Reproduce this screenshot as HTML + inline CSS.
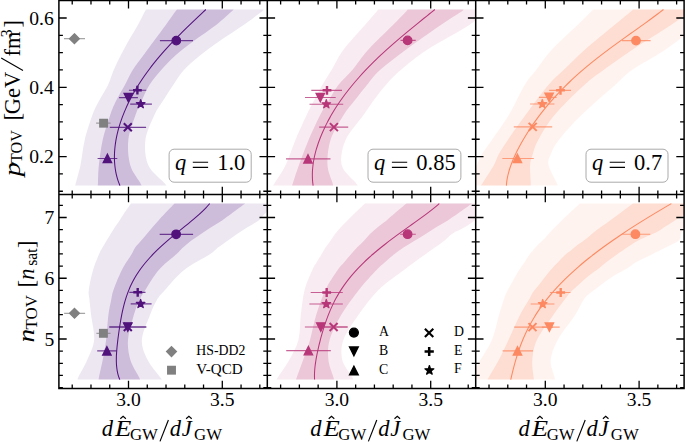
<!DOCTYPE html>
<html><head><meta charset="utf-8"><style>
html,body{margin:0;padding:0;background:#fff;}
svg{display:block;font-family:"Liberation Serif", serif;}
</style></head><body>
<svg xmlns="http://www.w3.org/2000/svg" width="685" height="442" viewBox="0 0 685 442">
<rect width="685" height="442" fill="#fff"/>
<clipPath id="clip00"><rect x="58.9" y="0.6" width="208.4" height="193.9"/></clipPath>
<g clip-path="url(#clip00)">
<path d="M146.30,9.50 C146.02,9.92 146.00,9.42 144.60,12.00 C143.20,14.58 140.50,20.33 137.90,25.00 C135.30,29.67 131.83,35.00 129.00,40.00 C126.17,45.00 123.45,50.00 120.90,55.00 C118.35,60.00 115.85,65.00 113.70,70.00 C111.55,75.00 110.37,80.00 108.00,85.00 C105.63,90.00 102.10,95.00 99.50,100.00 C96.90,105.00 94.87,108.33 92.40,115.00 C89.93,121.67 86.68,131.67 84.70,140.00 C82.72,148.33 81.93,158.00 80.50,165.00 C79.07,172.00 76.98,178.57 76.10,182.00 C75.22,185.43 75.35,185.00 75.20,185.60 L166.60,185.60 C166.07,185.00 166.47,185.43 163.40,182.00 C160.33,178.57 151.20,172.00 148.20,165.00 C145.20,158.00 144.37,148.33 145.40,140.00 C146.43,131.67 151.38,121.67 154.40,115.00 C157.42,108.33 160.37,105.00 163.50,100.00 C166.63,95.00 169.80,90.00 173.20,85.00 C176.60,80.00 179.33,75.00 183.90,70.00 C188.47,65.00 194.42,60.00 200.60,55.00 C206.78,50.00 213.83,45.00 221.00,40.00 C228.17,35.00 236.88,29.67 243.60,25.00 C250.32,20.33 257.95,14.58 261.30,12.00 C264.65,9.42 263.30,9.92 263.70,9.50 Z" fill="#51127c" fill-opacity="0.10"/>
<path d="M177.20,9.50 C176.83,9.92 176.90,9.42 175.00,12.00 C173.10,14.58 169.20,20.33 165.80,25.00 C162.40,29.67 158.30,35.00 154.60,40.00 C150.90,45.00 147.25,50.00 143.60,55.00 C139.95,60.00 135.82,65.00 132.70,70.00 C129.58,75.00 127.60,80.00 124.90,85.00 C122.20,90.00 118.95,95.00 116.50,100.00 C114.05,105.00 112.50,108.33 110.20,115.00 C107.90,121.67 104.58,131.67 102.70,140.00 C100.82,148.33 99.68,158.00 98.90,165.00 C98.12,172.00 98.18,178.57 98.00,182.00 C97.82,185.43 97.83,185.00 97.80,185.60 L141.70,185.60 C141.37,185.00 141.62,185.43 139.70,182.00 C137.78,178.57 132.10,172.00 130.20,165.00 C128.30,158.00 127.42,148.33 128.30,140.00 C129.18,131.67 133.22,121.67 135.50,115.00 C137.78,108.33 139.68,105.00 142.00,100.00 C144.32,95.00 146.20,90.00 149.40,85.00 C152.60,80.00 156.78,75.00 161.20,70.00 C165.62,65.00 170.27,60.00 175.90,55.00 C181.53,50.00 188.30,45.00 195.00,40.00 C201.70,35.00 210.10,29.67 216.10,25.00 C222.10,20.33 228.07,14.58 231.00,12.00 C233.93,9.42 233.25,9.92 233.70,9.50 Z" fill="#51127c" fill-opacity="0.2"/>
<path d="M205.85,9.50 C205.05,10.25 202.63,12.51 201.02,14.02 C199.42,15.52 197.81,17.03 196.22,18.53 C194.63,20.04 193.05,21.54 191.48,23.05 C189.91,24.55 188.35,26.06 186.80,27.56 C185.26,29.07 183.73,30.57 182.22,32.08 C180.70,33.58 179.21,35.09 177.73,36.59 C176.26,38.10 174.80,39.60 173.37,41.11 C171.93,42.61 170.51,44.12 169.12,45.62 C167.73,47.13 166.36,48.63 165.02,50.14 C163.67,51.64 162.35,53.15 161.05,54.65 C159.75,56.16 158.48,57.66 157.23,59.17 C155.99,60.67 154.76,62.18 153.57,63.68 C152.37,65.19 151.20,66.69 150.06,68.20 C148.92,69.71 147.80,71.21 146.71,72.72 C145.62,74.22 144.55,75.73 143.52,77.23 C142.48,78.74 141.47,80.24 140.49,81.75 C139.50,83.25 138.55,84.76 137.62,86.26 C136.69,87.77 135.79,89.27 134.91,90.78 C134.03,92.28 133.19,93.79 132.36,95.29 C131.54,96.80 130.75,98.30 129.98,99.81 C129.21,101.31 128.47,102.82 127.75,104.32 C127.04,105.83 126.35,107.33 125.69,108.84 C125.03,110.34 124.40,111.85 123.79,113.35 C123.18,114.86 122.60,116.36 122.05,117.87 C121.50,119.37 120.98,120.88 120.48,122.38 C119.98,123.89 119.51,125.39 119.08,126.90 C118.64,128.41 118.22,129.91 117.84,131.42 C117.46,132.92 117.11,134.43 116.79,135.93 C116.46,137.44 116.17,138.94 115.91,140.45 C115.65,141.95 115.42,143.46 115.23,144.96 C115.04,146.47 114.87,147.97 114.75,149.48 C114.62,150.98 114.53,152.49 114.48,153.99 C114.43,155.50 114.41,157.00 114.43,158.51 C114.46,160.01 114.52,161.52 114.63,163.02 C114.74,164.53 114.88,166.03 115.08,167.54 C115.28,169.04 115.52,170.55 115.81,172.05 C116.11,173.56 116.45,175.06 116.85,176.57 C117.25,178.07 117.69,179.58 118.21,181.08 C118.72,182.59 119.63,184.85 119.92,185.60" stroke="#51127c" stroke-width="1.05" fill="none"/>
<line x1="64.0" y1="38.7" x2="85.0" y2="38.7" stroke="#808080" stroke-width="1.2" stroke-opacity="0.7"/>
<path d="M74.40,33.80 L79.30,38.70 L74.40,43.60 L69.50,38.70 Z" fill="#808080" stroke="#808080" stroke-width="1.3" stroke-linejoin="miter"/>
<line x1="96.1" y1="123.2" x2="110.6" y2="123.2" stroke="#808080" stroke-width="1.2" stroke-opacity="0.7"/>
<rect x="99.80" y="119.40" width="7.60" height="7.60" fill="#808080" stroke="#808080" stroke-width="1.3" stroke-linejoin="miter"/>
<line x1="159.9" y1="40.6" x2="193.0" y2="40.6" stroke="#51127c" stroke-width="1.15" stroke-opacity="0.78"/>
<circle cx="176.3" cy="40.6" r="4.25" fill="#51127c" stroke="#51127c" stroke-width="1.3" stroke-linejoin="miter"/>
<line x1="128.9" y1="90.2" x2="146.2" y2="90.2" stroke="#51127c" stroke-width="1.15" stroke-opacity="0.78"/>
<path d="M133.00,90.20 L141.80,90.20 M137.40,85.80 L137.40,94.60" stroke="#51127c" stroke-width="2.40" fill="none"/>
<line x1="119.1" y1="97.6" x2="137.9" y2="97.6" stroke="#51127c" stroke-width="1.15" stroke-opacity="0.78"/>
<path d="M124.10,93.40 L132.50,93.40 L128.30,101.80 Z" fill="#51127c" stroke="#51127c" stroke-width="1.3" stroke-linejoin="miter"/>
<line x1="130.2" y1="104.1" x2="151.9" y2="104.1" stroke="#51127c" stroke-width="1.15" stroke-opacity="0.78"/>
<path d="M140.70,99.60 L141.71,102.71 L144.98,102.71 L142.33,104.63 L143.35,107.74 L140.70,105.82 L138.05,107.74 L139.07,104.63 L136.42,102.71 L139.69,102.71 Z" fill="#51127c" stroke="#51127c" stroke-width="1.3" stroke-linejoin="round"/>
<line x1="109.8" y1="127.3" x2="146.1" y2="127.3" stroke="#51127c" stroke-width="1.15" stroke-opacity="0.78"/>
<path d="M123.80,123.30 L131.80,131.30 M123.80,131.30 L131.80,123.30" stroke="#51127c" stroke-width="2.00" fill="none"/>
<line x1="97.6" y1="158.5" x2="117.3" y2="158.5" stroke="#51127c" stroke-width="1.15" stroke-opacity="0.78"/>
<path d="M103.20,162.70 L111.60,162.70 L107.40,154.30 Z" fill="#51127c" stroke="#51127c" stroke-width="1.3" stroke-linejoin="miter"/>
</g>
<clipPath id="clip01"><rect x="267.3" y="0.6" width="208.4" height="193.9"/></clipPath>
<g clip-path="url(#clip01)">
<path d="M378.00,9.50 C377.72,9.92 378.47,9.42 376.30,12.00 C374.13,14.58 370.50,18.67 365.00,25.00 C359.50,31.33 348.87,42.50 343.30,50.00 C337.73,57.50 335.10,64.17 331.60,70.00 C328.10,75.83 325.18,80.00 322.30,85.00 C319.42,90.00 316.92,95.00 314.30,100.00 C311.68,105.00 309.75,108.33 306.60,115.00 C303.45,121.67 298.88,131.67 295.40,140.00 C291.92,148.33 289.05,158.00 285.70,165.00 C282.35,172.00 277.40,178.57 275.30,182.00 C273.20,185.43 273.47,185.00 273.10,185.60 L357.80,185.60 C357.33,185.00 357.68,185.43 355.00,182.00 C352.32,178.57 343.27,172.00 341.70,165.00 C340.13,158.00 341.97,148.33 345.60,140.00 C349.23,131.67 358.77,121.67 363.50,115.00 C368.23,108.33 370.28,105.00 374.00,100.00 C377.72,95.00 381.33,90.00 385.80,85.00 C390.27,80.00 393.97,75.83 400.80,70.00 C407.63,64.17 415.38,57.50 426.80,50.00 C438.22,42.50 459.93,31.33 469.30,25.00 C478.67,18.67 480.38,14.58 483.00,12.00 C485.62,9.42 484.67,9.92 485.00,9.50 Z" fill="#b73779" fill-opacity="0.10"/>
<path d="M407.70,9.50 C407.37,9.92 408.15,9.42 405.70,12.00 C403.25,14.58 399.28,18.67 393.00,25.00 C386.72,31.33 374.77,42.50 368.00,50.00 C361.23,57.50 357.33,64.17 352.40,70.00 C347.47,75.83 342.30,80.00 338.40,85.00 C334.50,90.00 332.03,95.00 329.00,100.00 C325.97,105.00 323.60,108.33 320.20,115.00 C316.80,121.67 312.13,131.67 308.60,140.00 C305.07,148.33 301.55,158.00 299.00,165.00 C296.45,172.00 294.45,178.57 293.30,182.00 C292.15,185.43 292.30,185.00 292.10,185.60 L333.20,185.60 C333.03,185.00 333.15,185.43 332.20,182.00 C331.25,178.57 327.78,172.00 327.50,165.00 C327.22,158.00 327.82,148.33 330.50,140.00 C333.18,131.67 339.52,121.67 343.60,115.00 C347.68,108.33 351.12,105.00 355.00,100.00 C358.88,95.00 362.73,90.00 366.90,85.00 C371.07,80.00 373.57,75.83 380.00,70.00 C386.43,64.17 395.37,57.50 405.50,50.00 C415.63,42.50 431.58,31.33 440.80,25.00 C450.02,18.67 457.02,14.58 460.80,12.00 C464.58,9.42 463.05,9.92 463.50,9.50 Z" fill="#b73779" fill-opacity="0.2"/>
<path d="M434.88,9.50 C433.95,10.25 431.15,12.51 429.28,14.02 C427.41,15.52 425.53,17.03 423.67,18.53 C421.80,20.04 419.93,21.54 418.08,23.05 C416.22,24.55 414.37,26.06 412.54,27.56 C410.70,29.07 408.87,30.57 407.06,32.08 C405.25,33.58 403.45,35.09 401.67,36.59 C399.89,38.10 398.13,39.60 396.39,41.11 C394.65,42.61 392.92,44.12 391.22,45.62 C389.52,47.13 387.84,48.63 386.18,50.14 C384.53,51.64 382.89,53.15 381.28,54.65 C379.68,56.16 378.09,57.66 376.53,59.17 C374.98,60.67 373.44,62.18 371.94,63.68 C370.43,65.19 368.95,66.69 367.50,68.20 C366.05,69.71 364.63,71.21 363.23,72.72 C361.83,74.22 360.46,75.73 359.12,77.23 C357.78,78.74 356.47,80.24 355.18,81.75 C353.90,83.25 352.64,84.76 351.42,86.26 C350.19,87.77 348.99,89.27 347.81,90.78 C346.64,92.28 345.50,93.79 344.38,95.29 C343.27,96.80 342.18,98.30 341.12,99.81 C340.06,101.31 339.03,102.82 338.02,104.32 C337.02,105.83 336.04,107.33 335.09,108.84 C334.15,110.34 333.22,111.85 332.33,113.35 C331.44,114.86 330.57,116.36 329.73,117.87 C328.89,119.37 328.08,120.88 327.30,122.38 C326.52,123.89 325.76,125.39 325.03,126.90 C324.31,128.41 323.60,129.91 322.93,131.42 C322.26,132.92 321.62,134.43 321.00,135.93 C320.39,137.44 319.80,138.94 319.25,140.45 C318.69,141.95 318.17,143.46 317.67,144.96 C317.18,146.47 316.71,147.97 316.28,149.48 C315.85,150.98 315.44,152.49 315.08,153.99 C314.71,155.50 314.38,157.00 314.08,158.51 C313.78,160.01 313.52,161.52 313.29,163.02 C313.07,164.53 312.88,166.03 312.74,167.54 C312.59,169.04 312.48,170.55 312.42,172.05 C312.36,173.56 312.34,175.06 312.37,176.57 C312.40,178.07 312.47,179.58 312.60,181.08 C312.72,182.59 313.04,184.85 313.13,185.60" stroke="#b73779" stroke-width="1.05" fill="none"/>
<line x1="400.5" y1="40.4" x2="415.7" y2="40.4" stroke="#b73779" stroke-width="1.15" stroke-opacity="0.78"/>
<circle cx="407.6" cy="40.4" r="4.25" fill="#b73779" stroke="#b73779" stroke-width="1.3" stroke-linejoin="miter"/>
<line x1="311.3" y1="90.3" x2="342.0" y2="90.3" stroke="#b73779" stroke-width="1.15" stroke-opacity="0.78"/>
<path d="M322.60,90.30 L331.40,90.30 M327.00,85.90 L327.00,94.70" stroke="#b73779" stroke-width="2.40" fill="none"/>
<line x1="305.0" y1="97.5" x2="335.7" y2="97.5" stroke="#b73779" stroke-width="1.15" stroke-opacity="0.78"/>
<path d="M316.10,93.30 L324.50,93.30 L320.30,101.70 Z" fill="#b73779" stroke="#b73779" stroke-width="1.3" stroke-linejoin="miter"/>
<line x1="309.5" y1="104.2" x2="343.2" y2="104.2" stroke="#b73779" stroke-width="1.15" stroke-opacity="0.78"/>
<path d="M326.30,99.70 L327.31,102.81 L330.58,102.81 L327.93,104.73 L328.95,107.84 L326.30,105.92 L323.65,107.84 L324.67,104.73 L322.02,102.81 L325.29,102.81 Z" fill="#b73779" stroke="#b73779" stroke-width="1.3" stroke-linejoin="round"/>
<line x1="319.2" y1="127.1" x2="348.2" y2="127.1" stroke="#b73779" stroke-width="1.15" stroke-opacity="0.78"/>
<path d="M329.90,123.10 L337.90,131.10 M329.90,131.10 L337.90,123.10" stroke="#b73779" stroke-width="2.00" fill="none"/>
<line x1="286.0" y1="158.8" x2="330.5" y2="158.8" stroke="#b73779" stroke-width="1.15" stroke-opacity="0.78"/>
<path d="M303.80,163.00 L312.20,163.00 L308.00,154.60 Z" fill="#b73779" stroke="#b73779" stroke-width="1.3" stroke-linejoin="miter"/>
</g>
<clipPath id="clip02"><rect x="475.7" y="0.6" width="208.4" height="193.9"/></clipPath>
<g clip-path="url(#clip02)">
<path d="M592.80,9.50 C592.45,9.92 593.25,9.42 590.70,12.00 C588.15,14.58 584.03,18.67 577.50,25.00 C570.97,31.33 558.40,42.50 551.50,50.00 C544.60,57.50 540.57,64.17 536.10,70.00 C531.63,75.83 529.25,77.50 524.70,85.00 C520.15,92.50 514.28,105.83 508.80,115.00 C503.32,124.17 496.35,133.33 491.80,140.00 C487.25,146.67 483.97,150.83 481.50,155.00 C479.03,159.17 478.75,160.50 477.00,165.00 C475.25,169.50 472.17,178.57 471.00,182.00 C469.83,185.43 470.17,185.00 470.00,185.60 L557.80,185.60 C557.55,185.00 557.85,185.43 556.30,182.00 C554.75,178.57 549.47,169.50 548.50,165.00 C547.53,160.50 548.78,159.17 550.50,155.00 C552.22,150.83 553.63,146.67 558.80,140.00 C563.97,133.33 572.10,124.17 581.50,115.00 C590.90,105.83 606.78,92.50 615.20,85.00 C623.62,77.50 623.72,75.83 632.00,70.00 C640.28,64.17 653.80,57.50 664.90,50.00 C676.00,42.50 690.08,31.33 698.60,25.00 C707.12,18.67 712.43,14.58 716.00,12.00 C719.57,9.42 719.33,9.92 720.00,9.50 Z" fill="#fc8961" fill-opacity="0.10"/>
<path d="M633.00,9.50 C632.57,9.92 633.48,9.42 630.40,12.00 C627.32,14.58 622.15,18.67 614.50,25.00 C606.85,31.33 592.98,42.50 584.50,50.00 C576.02,57.50 569.62,64.17 563.60,70.00 C557.58,75.83 554.75,77.50 548.40,85.00 C542.05,92.50 532.27,105.83 525.50,115.00 C518.73,124.17 512.32,133.33 507.80,140.00 C503.28,146.67 500.70,150.83 498.40,155.00 C496.10,159.17 496.52,160.50 494.00,165.00 C491.48,169.50 485.47,178.57 483.30,182.00 C481.13,185.43 481.38,185.00 481.00,185.60 L530.80,185.60 C530.78,185.00 530.82,185.43 530.70,182.00 C530.58,178.57 529.80,169.50 530.10,165.00 C530.40,160.50 531.15,159.17 532.50,155.00 C533.85,150.83 534.53,146.67 538.20,140.00 C541.87,133.33 546.82,124.17 554.50,115.00 C562.18,105.83 576.13,92.50 584.30,85.00 C592.47,77.50 595.55,75.83 603.50,70.00 C611.45,64.17 620.75,57.50 632.00,50.00 C643.25,42.50 661.50,31.33 671.00,25.00 C680.50,18.67 685.50,14.58 689.00,12.00 C692.50,9.42 691.50,9.92 692.00,9.50 Z" fill="#fc8961" fill-opacity="0.2"/>
<path d="M663.47,9.50 C662.49,10.25 659.59,12.51 657.60,14.02 C655.61,15.52 653.57,17.03 651.52,18.53 C649.47,20.04 647.39,21.54 645.30,23.05 C643.21,24.55 641.09,26.06 638.98,27.56 C636.87,29.07 634.75,30.57 632.64,32.08 C630.52,33.58 628.40,35.09 626.30,36.59 C624.20,38.10 622.10,39.60 620.02,41.11 C617.93,42.61 615.86,44.12 613.82,45.62 C611.77,47.13 609.73,48.63 607.73,50.14 C605.72,51.64 603.74,53.15 601.78,54.65 C599.82,56.16 597.89,57.66 595.99,59.17 C594.08,60.67 592.21,62.18 590.37,63.68 C588.52,65.19 586.71,66.69 584.93,68.20 C583.15,69.71 581.40,71.21 579.68,72.72 C577.96,74.22 576.28,75.73 574.63,77.23 C572.97,78.74 571.35,80.24 569.77,81.75 C568.18,83.25 566.63,84.76 565.11,86.26 C563.59,87.77 562.10,89.27 560.64,90.78 C559.18,92.28 557.76,93.79 556.36,95.29 C554.97,96.80 553.60,98.30 552.27,99.81 C550.94,101.31 549.63,102.82 548.36,104.32 C547.08,105.83 545.83,107.33 544.61,108.84 C543.39,110.34 542.20,111.85 541.04,113.35 C539.87,114.86 538.73,116.36 537.62,117.87 C536.50,119.37 535.42,120.88 534.35,122.38 C533.29,123.89 532.25,125.39 531.24,126.90 C530.22,128.41 529.23,129.91 528.27,131.42 C527.30,132.92 526.36,134.43 525.44,135.93 C524.52,137.44 523.63,138.94 522.76,140.45 C521.89,141.95 521.04,143.46 520.22,144.96 C519.41,146.47 518.61,147.97 517.84,149.48 C517.08,150.98 516.34,152.49 515.63,153.99 C514.92,155.50 514.24,157.00 513.59,158.51 C512.94,160.01 512.32,161.52 511.74,163.02 C511.17,164.53 510.62,166.03 510.11,167.54 C509.61,169.04 509.14,170.55 508.73,172.05 C508.31,173.56 507.93,175.06 507.61,176.57 C507.29,178.07 507.02,179.58 506.81,181.08 C506.60,182.59 506.43,184.85 506.36,185.60" stroke="#fc8961" stroke-width="1.05" fill="none"/>
<line x1="621.9" y1="40.6" x2="650.6" y2="40.6" stroke="#fc8961" stroke-width="1.15" stroke-opacity="0.78"/>
<circle cx="636.0" cy="40.6" r="4.25" fill="#fc8961" stroke="#fc8961" stroke-width="1.3" stroke-linejoin="miter"/>
<line x1="549.1" y1="90.3" x2="571.0" y2="90.3" stroke="#fc8961" stroke-width="1.15" stroke-opacity="0.78"/>
<path d="M556.10,90.30 L564.90,90.30 M560.50,85.90 L560.50,94.70" stroke="#fc8961" stroke-width="2.40" fill="none"/>
<line x1="539.0" y1="97.3" x2="556.6" y2="97.3" stroke="#fc8961" stroke-width="1.15" stroke-opacity="0.78"/>
<path d="M544.90,93.10 L553.30,93.10 L549.10,101.50 Z" fill="#fc8961" stroke="#fc8961" stroke-width="1.3" stroke-linejoin="miter"/>
<line x1="530.1" y1="104.0" x2="554.4" y2="104.0" stroke="#fc8961" stroke-width="1.15" stroke-opacity="0.78"/>
<path d="M542.30,99.50 L543.31,102.61 L546.58,102.61 L543.93,104.53 L544.95,107.64 L542.30,105.72 L539.65,107.64 L540.67,104.53 L538.02,102.61 L541.29,102.61 Z" fill="#fc8961" stroke="#fc8961" stroke-width="1.3" stroke-linejoin="round"/>
<line x1="513.8" y1="126.9" x2="552.2" y2="126.9" stroke="#fc8961" stroke-width="1.15" stroke-opacity="0.78"/>
<path d="M528.70,122.90 L536.70,130.90 M528.70,130.90 L536.70,122.90" stroke="#fc8961" stroke-width="2.00" fill="none"/>
<line x1="502.3" y1="158.5" x2="533.8" y2="158.5" stroke="#fc8961" stroke-width="1.15" stroke-opacity="0.78"/>
<path d="M513.20,162.70 L521.60,162.70 L517.40,154.30 Z" fill="#fc8961" stroke="#fc8961" stroke-width="1.3" stroke-linejoin="miter"/>
</g>
<clipPath id="clip10"><rect x="58.9" y="194.5" width="208.4" height="194.0"/></clipPath>
<g clip-path="url(#clip10)">
<path d="M131.00,203.60 C129.83,205.27 125.90,210.80 124.00,213.60 C122.10,216.40 121.10,218.15 119.60,220.40 C118.10,222.65 116.50,224.85 115.00,227.10 C113.50,229.35 112.02,231.63 110.60,233.90 C109.18,236.17 107.85,238.43 106.50,240.70 C105.15,242.97 103.75,245.23 102.50,247.50 C101.25,249.77 100.57,250.55 99.00,254.30 C97.43,258.05 94.80,264.05 93.10,270.00 C91.40,275.95 89.40,285.00 88.80,290.00 C88.20,295.00 89.12,295.83 89.50,300.00 C89.88,304.17 90.33,308.33 91.10,315.00 C91.87,321.67 94.75,332.50 94.10,340.00 C93.45,347.50 89.73,354.00 87.20,360.00 C84.67,366.00 80.52,372.73 78.90,376.00 C77.28,379.27 77.73,379.00 77.50,379.60 L162.00,379.60 C161.53,379.00 161.58,379.27 159.20,376.00 C156.82,372.73 150.58,366.00 147.70,360.00 C144.82,354.00 141.52,347.50 141.90,340.00 C142.28,332.50 147.50,321.67 150.00,315.00 C152.50,308.33 154.40,304.17 156.90,300.00 C159.40,295.83 160.45,295.00 165.00,290.00 C169.55,285.00 176.72,275.95 184.20,270.00 C191.68,264.05 204.27,258.05 209.90,254.30 C215.53,250.55 215.07,249.77 218.00,247.50 C220.93,245.23 224.33,242.97 227.50,240.70 C230.67,238.43 233.60,236.17 237.00,233.90 C240.40,231.63 244.28,229.35 247.90,227.10 C251.52,224.85 255.85,222.65 258.70,220.40 C261.55,218.15 262.28,216.40 265.00,213.60 C267.72,210.80 273.33,205.27 275.00,203.60 Z" fill="#51127c" fill-opacity="0.10"/>
<path d="M174.60,203.60 C172.98,205.27 167.58,210.80 164.90,213.60 C162.22,216.40 160.53,218.15 158.50,220.40 C156.47,222.65 154.65,224.85 152.70,227.10 C150.75,229.35 148.75,231.63 146.80,233.90 C144.85,236.17 142.93,238.43 141.00,240.70 C139.07,242.97 136.77,245.23 135.20,247.50 C133.63,249.77 133.82,250.55 131.60,254.30 C129.38,258.05 124.92,264.05 121.90,270.00 C118.88,275.95 115.28,285.00 113.50,290.00 C111.72,295.00 112.05,295.83 111.20,300.00 C110.35,304.17 109.25,308.33 108.40,315.00 C107.55,321.67 107.05,332.50 106.10,340.00 C105.15,347.50 103.85,354.00 102.70,360.00 C101.55,366.00 99.88,372.73 99.20,376.00 C98.52,379.27 98.70,379.00 98.60,379.60 L140.30,379.60 C139.98,379.00 140.05,379.27 138.40,376.00 C136.75,372.73 132.13,366.00 130.40,360.00 C128.67,354.00 127.43,347.50 128.00,340.00 C128.57,332.50 131.88,321.67 133.80,315.00 C135.72,308.33 137.58,304.17 139.50,300.00 C141.42,295.83 142.08,295.00 145.30,290.00 C148.52,285.00 153.63,275.95 158.80,270.00 C163.97,264.05 172.27,258.05 176.30,254.30 C180.33,250.55 180.55,249.77 183.00,247.50 C185.45,245.23 188.00,242.97 191.00,240.70 C194.00,238.43 197.58,236.17 201.00,233.90 C204.42,231.63 207.98,229.35 211.50,227.10 C215.02,224.85 218.75,222.65 222.10,220.40 C225.45,218.15 227.75,216.40 231.60,213.60 C235.45,210.80 242.93,205.27 245.20,203.60 Z" fill="#51127c" fill-opacity="0.2"/>
<path d="M209.70,203.60 C209.03,204.35 207.12,206.61 205.68,208.11 C204.24,209.62 202.67,211.12 201.06,212.63 C199.44,214.13 197.73,215.63 196.00,217.14 C194.26,218.64 192.46,220.15 190.65,221.65 C188.84,223.16 186.99,224.66 185.14,226.16 C183.30,227.67 181.44,229.17 179.60,230.68 C177.76,232.18 175.91,233.69 174.10,235.19 C172.29,236.69 170.50,238.20 168.74,239.70 C166.99,241.21 165.26,242.71 163.59,244.22 C161.91,245.72 160.27,247.22 158.68,248.73 C157.09,250.23 155.55,251.74 154.07,253.24 C152.58,254.75 151.15,256.25 149.77,257.75 C148.40,259.26 147.08,260.76 145.82,262.27 C144.56,263.77 143.35,265.28 142.21,266.78 C141.06,268.28 139.98,269.79 138.95,271.29 C137.92,272.80 136.94,274.30 136.02,275.81 C135.10,277.31 134.24,278.81 133.43,280.32 C132.61,281.82 131.85,283.33 131.13,284.83 C130.42,286.34 129.75,287.84 129.12,289.34 C128.50,290.85 127.92,292.35 127.37,293.86 C126.82,295.36 126.32,296.86 125.84,298.37 C125.37,299.87 124.93,301.38 124.52,302.88 C124.10,304.39 123.72,305.89 123.36,307.39 C122.99,308.90 122.66,310.40 122.34,311.91 C122.01,313.41 121.72,314.92 121.43,316.42 C121.14,317.92 120.87,319.43 120.61,320.93 C120.35,322.44 120.11,323.94 119.87,325.45 C119.63,326.95 119.40,328.45 119.18,329.96 C118.95,331.46 118.74,332.97 118.54,334.47 C118.33,335.98 118.13,337.48 117.94,338.98 C117.76,340.49 117.58,341.99 117.41,343.50 C117.24,345.00 117.09,346.51 116.95,348.01 C116.81,349.51 116.69,351.02 116.59,352.52 C116.50,354.03 116.41,355.53 116.37,357.04 C116.34,358.54 116.32,360.04 116.35,361.55 C116.39,363.05 116.45,364.56 116.59,366.06 C116.73,367.57 116.90,369.07 117.17,370.57 C117.43,372.08 117.75,373.58 118.18,375.09 C118.61,376.59 119.48,378.85 119.74,379.60" stroke="#51127c" stroke-width="1.05" fill="none"/>
<line x1="64.1" y1="313.3" x2="85.1" y2="313.3" stroke="#808080" stroke-width="1.2" stroke-opacity="0.7"/>
<path d="M74.50,308.40 L79.40,313.30 L74.50,318.20 L69.60,313.30 Z" fill="#808080" stroke="#808080" stroke-width="1.3" stroke-linejoin="miter"/>
<line x1="96.4" y1="333.3" x2="110.5" y2="333.3" stroke="#808080" stroke-width="1.2" stroke-opacity="0.7"/>
<rect x="99.60" y="329.50" width="7.60" height="7.60" fill="#808080" stroke="#808080" stroke-width="1.3" stroke-linejoin="miter"/>
<line x1="159.7" y1="234.3" x2="193.1" y2="234.3" stroke="#51127c" stroke-width="1.15" stroke-opacity="0.78"/>
<circle cx="176.1" cy="234.3" r="4.25" fill="#51127c" stroke="#51127c" stroke-width="1.3" stroke-linejoin="miter"/>
<line x1="129.3" y1="292.3" x2="145.5" y2="292.3" stroke="#51127c" stroke-width="1.15" stroke-opacity="0.78"/>
<path d="M133.30,292.30 L142.10,292.30 M137.70,287.90 L137.70,296.70" stroke="#51127c" stroke-width="2.40" fill="none"/>
<line x1="130.7" y1="303.9" x2="151.6" y2="303.9" stroke="#51127c" stroke-width="1.15" stroke-opacity="0.78"/>
<path d="M140.60,299.40 L141.61,302.51 L144.88,302.51 L142.23,304.43 L143.25,307.54 L140.60,305.62 L137.95,307.54 L138.97,304.43 L136.32,302.51 L139.59,302.51 Z" fill="#51127c" stroke="#51127c" stroke-width="1.3" stroke-linejoin="round"/>
<line x1="109.3" y1="327.0" x2="146.3" y2="327.0" stroke="#51127c" stroke-width="1.15" stroke-opacity="0.78"/>
<path d="M123.60,322.80 L132.00,322.80 L127.80,331.20 Z" fill="#51127c" stroke="#51127c" stroke-width="1.3" stroke-linejoin="miter"/>
<line x1="109.3" y1="327.0" x2="146.3" y2="327.0" stroke="#51127c" stroke-width="1.15" stroke-opacity="0.78"/>
<path d="M123.80,323.00 L131.80,331.00 M123.80,331.00 L131.80,323.00" stroke="#51127c" stroke-width="2.00" fill="none"/>
<line x1="97.2" y1="350.8" x2="116.6" y2="350.8" stroke="#51127c" stroke-width="1.15" stroke-opacity="0.78"/>
<path d="M102.70,355.00 L111.10,355.00 L106.90,346.60 Z" fill="#51127c" stroke="#51127c" stroke-width="1.3" stroke-linejoin="miter"/>
</g>
<clipPath id="clip11"><rect x="267.3" y="194.5" width="208.4" height="194.0"/></clipPath>
<g clip-path="url(#clip11)">
<path d="M365.00,203.60 C363.25,205.27 357.42,210.80 354.50,213.60 C351.58,216.40 349.75,218.15 347.50,220.40 C345.25,222.65 343.08,224.85 341.00,227.10 C338.92,229.35 336.75,231.63 335.00,233.90 C333.25,236.17 332.08,238.43 330.50,240.70 C328.92,242.97 327.00,245.23 325.50,247.50 C324.00,249.77 323.00,251.80 321.50,254.30 C320.00,256.80 318.03,259.88 316.50,262.50 C314.97,265.12 314.28,265.42 312.30,270.00 C310.32,274.58 306.52,282.50 304.60,290.00 C302.68,297.50 301.83,306.67 300.80,315.00 C299.77,323.33 300.33,332.50 298.40,340.00 C296.47,347.50 292.47,354.00 289.20,360.00 C285.93,366.00 280.92,372.73 278.80,376.00 C276.68,379.27 276.88,379.00 276.50,379.60 L353.50,379.60 C353.17,379.00 353.37,379.27 351.50,376.00 C349.63,372.73 343.65,366.00 342.30,360.00 C340.95,354.00 340.72,347.50 343.40,340.00 C346.08,332.50 352.57,323.33 358.40,315.00 C364.23,306.67 370.80,297.50 378.40,290.00 C386.00,282.50 398.08,274.58 404.00,270.00 C409.92,265.42 410.33,265.12 413.90,262.50 C417.47,259.88 421.92,256.80 425.40,254.30 C428.88,251.80 431.65,249.77 434.80,247.50 C437.95,245.23 441.43,242.97 444.30,240.70 C447.17,238.43 448.55,236.17 452.00,233.90 C455.45,231.63 461.25,229.35 465.00,227.10 C468.75,224.85 471.67,222.65 474.50,220.40 C477.33,218.15 479.08,216.40 482.00,213.60 C484.92,210.80 490.33,205.27 492.00,203.60 Z" fill="#b73779" fill-opacity="0.10"/>
<path d="M406.50,203.60 C404.50,205.27 397.83,210.80 394.50,213.60 C391.17,216.40 389.25,218.15 386.50,220.40 C383.75,222.65 380.75,224.85 378.00,227.10 C375.25,229.35 372.33,231.63 370.00,233.90 C367.67,236.17 366.17,238.43 364.00,240.70 C361.83,242.97 359.17,245.23 357.00,247.50 C354.83,249.77 353.17,251.80 351.00,254.30 C348.83,256.80 346.22,259.88 344.00,262.50 C341.78,265.12 340.80,265.42 337.70,270.00 C334.60,274.58 328.98,282.50 325.40,290.00 C321.82,297.50 318.77,306.67 316.20,315.00 C313.63,323.33 312.18,332.50 310.00,340.00 C307.82,347.50 305.22,354.00 303.10,360.00 C300.98,366.00 298.48,372.73 297.30,376.00 C296.12,379.27 296.22,379.00 296.00,379.60 L334.00,379.60 C333.83,379.00 333.93,379.27 333.00,376.00 C332.07,372.73 328.97,366.00 328.40,360.00 C327.83,354.00 327.48,347.50 329.60,340.00 C331.72,332.50 336.23,323.33 341.10,315.00 C345.97,306.67 352.90,297.50 358.80,290.00 C364.70,282.50 372.20,274.58 376.50,270.00 C380.80,265.42 381.65,265.12 384.60,262.50 C387.55,259.88 391.05,256.80 394.20,254.30 C397.35,251.80 400.12,249.77 403.50,247.50 C406.88,245.23 410.82,242.97 414.50,240.70 C418.18,238.43 421.93,236.17 425.60,233.90 C429.27,231.63 432.82,229.35 436.50,227.10 C440.18,224.85 444.13,222.65 447.70,220.40 C451.27,218.15 453.85,216.40 457.90,213.60 C461.95,210.80 469.65,205.27 472.00,203.60 Z" fill="#b73779" fill-opacity="0.2"/>
<path d="M439.32,203.60 C438.42,204.35 435.79,206.61 433.93,208.11 C432.07,209.62 430.13,211.12 428.16,212.63 C426.18,214.13 424.15,215.63 422.10,217.14 C420.06,218.64 417.97,220.15 415.88,221.65 C413.80,223.16 411.69,224.66 409.59,226.16 C407.49,227.67 405.38,229.17 403.30,230.68 C401.21,232.18 399.13,233.69 397.08,235.19 C395.03,236.69 393.00,238.20 391.00,239.70 C389.00,241.21 387.03,242.71 385.10,244.22 C383.17,245.72 381.28,247.22 379.43,248.73 C377.58,250.23 375.77,251.74 374.01,253.24 C372.25,254.75 370.54,256.25 368.87,257.75 C367.21,259.26 365.59,260.76 364.03,262.27 C362.47,263.77 360.95,265.28 359.49,266.78 C358.03,268.28 356.62,269.79 355.26,271.29 C353.90,272.80 352.60,274.30 351.34,275.81 C350.08,277.31 348.88,278.81 347.72,280.32 C346.56,281.82 345.45,283.33 344.39,284.83 C343.33,286.34 342.31,287.84 341.34,289.34 C340.36,290.85 339.43,292.35 338.54,293.86 C337.65,295.36 336.80,296.86 335.99,298.37 C335.18,299.87 334.40,301.38 333.66,302.88 C332.92,304.39 332.21,305.89 331.53,307.39 C330.85,308.90 330.20,310.40 329.58,311.91 C328.95,313.41 328.36,314.92 327.78,316.42 C327.21,317.92 326.66,319.43 326.13,320.93 C325.60,322.44 325.09,323.94 324.59,325.45 C324.10,326.95 323.63,328.45 323.17,329.96 C322.71,331.46 322.26,332.97 321.83,334.47 C321.40,335.98 320.99,337.48 320.59,338.98 C320.19,340.49 319.80,341.99 319.42,343.50 C319.05,345.00 318.69,346.51 318.34,348.01 C318.00,349.51 317.66,351.02 317.35,352.52 C317.04,354.03 316.74,355.53 316.46,357.04 C316.19,358.54 315.93,360.04 315.70,361.55 C315.47,363.05 315.26,364.56 315.09,366.06 C314.91,367.57 314.76,369.07 314.66,370.57 C314.56,372.08 314.49,373.58 314.47,375.09 C314.45,376.59 314.55,378.85 314.57,379.60" stroke="#b73779" stroke-width="1.05" fill="none"/>
<line x1="400.2" y1="234.2" x2="415.8" y2="234.2" stroke="#b73779" stroke-width="1.15" stroke-opacity="0.78"/>
<circle cx="407.6" cy="234.2" r="4.25" fill="#b73779" stroke="#b73779" stroke-width="1.3" stroke-linejoin="miter"/>
<line x1="310.7" y1="292.5" x2="342.8" y2="292.5" stroke="#b73779" stroke-width="1.15" stroke-opacity="0.78"/>
<path d="M322.30,292.50 L331.10,292.50 M326.70,288.10 L326.70,296.90" stroke="#b73779" stroke-width="2.40" fill="none"/>
<line x1="309.4" y1="304.0" x2="342.8" y2="304.0" stroke="#b73779" stroke-width="1.15" stroke-opacity="0.78"/>
<path d="M326.30,299.50 L327.31,302.61 L330.58,302.61 L327.93,304.53 L328.95,307.64 L326.30,305.72 L323.65,307.64 L324.67,304.53 L322.02,302.61 L325.29,302.61 Z" fill="#b73779" stroke="#b73779" stroke-width="1.3" stroke-linejoin="round"/>
<line x1="304.9" y1="327.0" x2="347.2" y2="327.0" stroke="#b73779" stroke-width="1.15" stroke-opacity="0.78"/>
<path d="M316.60,322.80 L325.00,322.80 L320.80,331.20 Z" fill="#b73779" stroke="#b73779" stroke-width="1.3" stroke-linejoin="miter"/>
<line x1="319.0" y1="327.0" x2="348.0" y2="327.0" stroke="#b73779" stroke-width="1.15" stroke-opacity="0.78"/>
<path d="M329.60,323.00 L337.60,331.00 M329.60,331.00 L337.60,323.00" stroke="#b73779" stroke-width="2.00" fill="none"/>
<line x1="286.2" y1="350.6" x2="330.8" y2="350.6" stroke="#b73779" stroke-width="1.15" stroke-opacity="0.78"/>
<path d="M304.20,354.80 L312.60,354.80 L308.40,346.40 Z" fill="#b73779" stroke="#b73779" stroke-width="1.3" stroke-linejoin="miter"/>
</g>
<clipPath id="clip12"><rect x="475.7" y="194.5" width="208.4" height="194.0"/></clipPath>
<g clip-path="url(#clip12)">
<path d="M580.00,203.60 C578.08,205.33 571.80,210.93 568.50,214.00 C565.20,217.07 562.42,219.83 560.20,222.00 C557.98,224.17 556.83,225.33 555.20,227.00 C553.57,228.67 552.43,229.83 550.40,232.00 C548.37,234.17 545.12,237.83 543.00,240.00 C540.88,242.17 539.32,243.33 537.70,245.00 C536.08,246.67 534.72,248.33 533.30,250.00 C531.88,251.67 530.67,252.95 529.20,255.00 C527.73,257.05 525.95,260.13 524.50,262.30 C523.05,264.47 522.08,265.57 520.50,268.00 C518.92,270.43 516.58,274.20 515.00,276.90 C513.42,279.60 512.33,281.77 511.00,284.20 C509.67,286.63 508.17,289.07 507.00,291.50 C505.83,293.93 505.33,294.88 504.00,298.80 C502.67,302.72 501.02,308.13 499.00,315.00 C496.98,321.87 495.00,332.50 491.90,340.00 C488.80,347.50 483.72,354.00 480.40,360.00 C477.08,366.00 473.73,372.73 472.00,376.00 C470.27,379.27 470.33,379.00 470.00,379.60 L555.50,379.60 C555.28,379.00 555.00,379.27 554.20,376.00 C553.40,372.73 550.12,366.00 550.70,360.00 C551.28,354.00 553.62,347.50 557.70,340.00 C561.78,332.50 570.77,321.87 575.20,315.00 C579.63,308.13 581.45,302.72 584.30,298.80 C587.15,294.88 589.38,293.93 592.30,291.50 C595.22,289.07 598.52,286.63 601.80,284.20 C605.08,281.77 607.65,279.60 612.00,276.90 C616.35,274.20 623.88,270.43 627.90,268.00 C631.92,265.57 632.28,264.47 636.10,262.30 C639.92,260.13 646.70,257.05 650.80,255.00 C654.90,252.95 657.37,251.67 660.70,250.00 C664.03,248.33 667.68,246.67 670.80,245.00 C673.92,243.33 677.58,242.17 679.40,240.00 C681.22,237.83 680.27,234.17 681.70,232.00 C683.13,229.83 685.78,228.67 688.00,227.00 C690.22,225.33 691.33,224.17 695.00,222.00 C698.67,219.83 704.17,217.07 710.00,214.00 C715.83,210.93 726.67,205.33 730.00,203.60 Z" fill="#fc8961" fill-opacity="0.10"/>
<path d="M633.00,203.60 C630.67,205.33 623.15,210.93 619.00,214.00 C614.85,217.07 611.12,219.83 608.10,222.00 C605.08,224.17 603.20,225.33 600.90,227.00 C598.60,228.67 597.02,229.83 594.30,232.00 C591.58,234.17 587.42,237.83 584.60,240.00 C581.78,242.17 579.58,243.33 577.40,245.00 C575.22,246.67 573.57,248.33 571.50,250.00 C569.43,251.67 567.25,252.95 565.00,255.00 C562.75,257.05 560.08,260.13 558.00,262.30 C555.92,264.47 554.67,265.57 552.50,268.00 C550.33,270.43 547.17,274.20 545.00,276.90 C542.83,279.60 541.42,281.77 539.50,284.20 C537.58,286.63 535.17,289.07 533.50,291.50 C531.83,293.93 531.75,294.88 529.50,298.80 C527.25,302.72 523.50,308.13 520.00,315.00 C516.50,321.87 512.03,332.50 508.50,340.00 C504.97,347.50 501.95,354.00 498.80,360.00 C495.65,366.00 491.48,372.73 489.60,376.00 C487.72,379.27 487.85,379.00 487.50,379.60 L534.00,379.60 C533.90,379.00 533.68,379.27 533.40,376.00 C533.12,372.73 531.72,366.00 532.30,360.00 C532.88,354.00 533.40,347.50 536.90,340.00 C540.40,332.50 548.57,321.87 553.30,315.00 C558.03,308.13 562.32,302.72 565.30,298.80 C568.28,294.88 568.88,293.93 571.20,291.50 C573.52,289.07 576.53,286.63 579.20,284.20 C581.87,281.77 583.83,279.60 587.20,276.90 C590.57,274.20 596.23,270.43 599.40,268.00 C602.57,265.57 603.40,264.47 606.20,262.30 C609.00,260.13 613.35,257.05 616.20,255.00 C619.05,252.95 620.87,251.67 623.30,250.00 C625.73,248.33 628.15,246.67 630.80,245.00 C633.45,243.33 634.87,242.17 639.20,240.00 C643.53,237.83 652.57,234.17 656.80,232.00 C661.03,229.83 661.98,228.67 664.60,227.00 C667.22,225.33 669.10,224.17 672.50,222.00 C675.90,219.83 680.42,217.07 685.00,214.00 C689.58,210.93 697.50,205.33 700.00,203.60 Z" fill="#fc8961" fill-opacity="0.2"/>
<path d="M671.35,203.60 C670.06,204.35 666.19,206.61 663.65,208.11 C661.10,209.62 658.57,211.12 656.06,212.63 C653.56,214.13 651.07,215.63 648.61,217.14 C646.15,218.64 643.71,220.15 641.30,221.65 C638.89,223.16 636.50,224.66 634.15,226.16 C631.79,227.67 629.46,229.17 627.17,230.68 C624.87,232.18 622.60,233.69 620.37,235.19 C618.13,236.69 615.93,238.20 613.75,239.70 C611.58,241.21 609.45,242.71 607.34,244.22 C605.24,245.72 603.17,247.22 601.13,248.73 C599.10,250.23 597.10,251.74 595.14,253.24 C593.17,254.75 591.25,256.25 589.36,257.75 C587.47,259.26 585.62,260.76 583.80,262.27 C581.99,263.77 580.21,265.28 578.47,266.78 C576.73,268.28 575.03,269.79 573.37,271.29 C571.70,272.80 570.08,274.30 568.49,275.81 C566.90,277.31 565.36,278.81 563.85,280.32 C562.34,281.82 560.86,283.33 559.43,284.83 C558.00,286.34 556.60,287.84 555.24,289.34 C553.89,290.85 552.57,292.35 551.28,293.86 C550.00,295.36 548.76,296.86 547.55,298.37 C546.34,299.87 545.17,301.38 544.03,302.88 C542.89,304.39 541.79,305.89 540.73,307.39 C539.66,308.90 538.63,310.40 537.64,311.91 C536.64,313.41 535.68,314.92 534.75,316.42 C533.82,317.92 532.93,319.43 532.06,320.93 C531.20,322.44 530.37,323.94 529.56,325.45 C528.76,326.95 527.99,328.45 527.25,329.96 C526.50,331.46 525.79,332.97 525.10,334.47 C524.41,335.98 523.75,337.48 523.12,338.98 C522.48,340.49 521.88,341.99 521.29,343.50 C520.70,345.00 520.14,346.51 519.60,348.01 C519.06,349.51 518.55,351.02 518.05,352.52 C517.55,354.03 517.07,355.53 516.61,357.04 C516.15,358.54 515.71,360.04 515.28,361.55 C514.85,363.05 514.44,364.56 514.04,366.06 C513.64,367.57 513.25,369.07 512.88,370.57 C512.50,372.08 512.14,373.58 511.78,375.09 C511.42,376.59 510.91,378.85 510.73,379.60" stroke="#fc8961" stroke-width="1.05" fill="none"/>
<line x1="622.2" y1="234.2" x2="650.2" y2="234.2" stroke="#fc8961" stroke-width="1.15" stroke-opacity="0.78"/>
<circle cx="635.4" cy="234.2" r="4.25" fill="#fc8961" stroke="#fc8961" stroke-width="1.3" stroke-linejoin="miter"/>
<line x1="549.9" y1="292.5" x2="570.5" y2="292.5" stroke="#fc8961" stroke-width="1.15" stroke-opacity="0.78"/>
<path d="M556.30,292.50 L565.10,292.50 M560.70,288.10 L560.70,296.90" stroke="#fc8961" stroke-width="2.40" fill="none"/>
<line x1="530.7" y1="304.0" x2="554.4" y2="304.0" stroke="#fc8961" stroke-width="1.15" stroke-opacity="0.78"/>
<path d="M542.70,299.50 L543.71,302.61 L546.98,302.61 L544.33,304.53 L545.35,307.64 L542.70,305.72 L540.05,307.64 L541.07,304.53 L538.42,302.61 L541.69,302.61 Z" fill="#fc8961" stroke="#fc8961" stroke-width="1.3" stroke-linejoin="round"/>
<line x1="514.2" y1="327.1" x2="553.0" y2="327.1" stroke="#fc8961" stroke-width="1.15" stroke-opacity="0.78"/>
<path d="M528.50,323.10 L536.50,331.10 M528.50,331.10 L536.50,323.10" stroke="#fc8961" stroke-width="2.00" fill="none"/>
<line x1="541.9" y1="327.1" x2="559.7" y2="327.1" stroke="#fc8961" stroke-width="1.15" stroke-opacity="0.78"/>
<path d="M545.20,322.90 L553.60,322.90 L549.40,331.30 Z" fill="#fc8961" stroke="#fc8961" stroke-width="1.3" stroke-linejoin="miter"/>
<line x1="502.6" y1="350.8" x2="533.0" y2="350.8" stroke="#fc8961" stroke-width="1.15" stroke-opacity="0.78"/>
<path d="M513.30,355.00 L521.70,355.00 L517.50,346.60 Z" fill="#fc8961" stroke="#fc8961" stroke-width="1.3" stroke-linejoin="miter"/>
</g>
<path d="M72.22,194.5 v-4.0 M72.22,0.6 v4.0 M90.98,194.5 v-4.0 M90.98,0.6 v4.0 M109.74,194.5 v-4.0 M109.74,0.6 v4.0 M128.50,194.5 v-7.8 M128.50,0.6 v7.8 M147.26,194.5 v-4.0 M147.26,0.6 v4.0 M166.02,194.5 v-4.0 M166.02,0.6 v4.0 M184.78,194.5 v-4.0 M184.78,0.6 v4.0 M203.54,194.5 v-4.0 M203.54,0.6 v4.0 M222.30,194.5 v-7.8 M222.30,0.6 v7.8 M241.06,194.5 v-4.0 M241.06,0.6 v4.0 M259.82,194.5 v-4.0 M259.82,0.6 v4.0 M58.9,191.25 h4.0 M267.3,191.25 h-4.0 M58.9,173.92 h4.0 M267.3,173.92 h-4.0 M58.9,156.60 h7.8 M267.3,156.60 h-7.8 M58.9,139.27 h4.0 M267.3,139.27 h-4.0 M58.9,121.95 h4.0 M267.3,121.95 h-4.0 M58.9,104.62 h4.0 M267.3,104.62 h-4.0 M58.9,87.30 h7.8 M267.3,87.30 h-7.8 M58.9,69.97 h4.0 M267.3,69.97 h-4.0 M58.9,52.65 h4.0 M267.3,52.65 h-4.0 M58.9,35.32 h4.0 M267.3,35.32 h-4.0 M58.9,18.00 h7.8 M267.3,18.00 h-7.8 M280.62,194.5 v-4.0 M280.62,0.6 v4.0 M299.38,194.5 v-4.0 M299.38,0.6 v4.0 M318.14,194.5 v-4.0 M318.14,0.6 v4.0 M336.90,194.5 v-7.8 M336.90,0.6 v7.8 M355.66,194.5 v-4.0 M355.66,0.6 v4.0 M374.42,194.5 v-4.0 M374.42,0.6 v4.0 M393.18,194.5 v-4.0 M393.18,0.6 v4.0 M411.94,194.5 v-4.0 M411.94,0.6 v4.0 M430.70,194.5 v-7.8 M430.70,0.6 v7.8 M449.46,194.5 v-4.0 M449.46,0.6 v4.0 M468.22,194.5 v-4.0 M468.22,0.6 v4.0 M267.3,191.25 h4.0 M475.70000000000005,191.25 h-4.0 M267.3,173.92 h4.0 M475.70000000000005,173.92 h-4.0 M267.3,156.60 h7.8 M475.70000000000005,156.60 h-7.8 M267.3,139.27 h4.0 M475.70000000000005,139.27 h-4.0 M267.3,121.95 h4.0 M475.70000000000005,121.95 h-4.0 M267.3,104.62 h4.0 M475.70000000000005,104.62 h-4.0 M267.3,87.30 h7.8 M475.70000000000005,87.30 h-7.8 M267.3,69.97 h4.0 M475.70000000000005,69.97 h-4.0 M267.3,52.65 h4.0 M475.70000000000005,52.65 h-4.0 M267.3,35.32 h4.0 M475.70000000000005,35.32 h-4.0 M267.3,18.00 h7.8 M475.70000000000005,18.00 h-7.8 M489.02,194.5 v-4.0 M489.02,0.6 v4.0 M507.78,194.5 v-4.0 M507.78,0.6 v4.0 M526.54,194.5 v-4.0 M526.54,0.6 v4.0 M545.30,194.5 v-7.8 M545.30,0.6 v7.8 M564.06,194.5 v-4.0 M564.06,0.6 v4.0 M582.82,194.5 v-4.0 M582.82,0.6 v4.0 M601.58,194.5 v-4.0 M601.58,0.6 v4.0 M620.34,194.5 v-4.0 M620.34,0.6 v4.0 M639.10,194.5 v-7.8 M639.10,0.6 v7.8 M657.86,194.5 v-4.0 M657.86,0.6 v4.0 M676.62,194.5 v-4.0 M676.62,0.6 v4.0 M475.7,191.25 h4.0 M684.1,191.25 h-4.0 M475.7,173.92 h4.0 M684.1,173.92 h-4.0 M475.7,156.60 h7.8 M684.1,156.60 h-7.8 M475.7,139.27 h4.0 M684.1,139.27 h-4.0 M475.7,121.95 h4.0 M684.1,121.95 h-4.0 M475.7,104.62 h4.0 M684.1,104.62 h-4.0 M475.7,87.30 h7.8 M684.1,87.30 h-7.8 M475.7,69.97 h4.0 M684.1,69.97 h-4.0 M475.7,52.65 h4.0 M684.1,52.65 h-4.0 M475.7,35.32 h4.0 M684.1,35.32 h-4.0 M475.7,18.00 h7.8 M684.1,18.00 h-7.8 M72.22,388.5 v-4.0 M72.22,194.5 v4.0 M90.98,388.5 v-4.0 M90.98,194.5 v4.0 M109.74,388.5 v-4.0 M109.74,194.5 v4.0 M128.50,388.5 v-7.8 M128.50,194.5 v7.8 M147.26,388.5 v-4.0 M147.26,194.5 v4.0 M166.02,388.5 v-4.0 M166.02,194.5 v4.0 M184.78,388.5 v-4.0 M184.78,194.5 v4.0 M203.54,388.5 v-4.0 M203.54,194.5 v4.0 M222.30,388.5 v-7.8 M222.30,194.5 v7.8 M241.06,388.5 v-4.0 M241.06,194.5 v4.0 M259.82,388.5 v-4.0 M259.82,194.5 v4.0 M58.9,387.60 h4.0 M267.3,387.60 h-4.0 M58.9,375.45 h4.0 M267.3,375.45 h-4.0 M58.9,363.30 h4.0 M267.3,363.30 h-4.0 M58.9,351.15 h4.0 M267.3,351.15 h-4.0 M58.9,339.00 h7.8 M267.3,339.00 h-7.8 M58.9,326.85 h4.0 M267.3,326.85 h-4.0 M58.9,314.70 h4.0 M267.3,314.70 h-4.0 M58.9,302.55 h4.0 M267.3,302.55 h-4.0 M58.9,290.40 h4.0 M267.3,290.40 h-4.0 M58.9,278.25 h7.8 M267.3,278.25 h-7.8 M58.9,266.10 h4.0 M267.3,266.10 h-4.0 M58.9,253.95 h4.0 M267.3,253.95 h-4.0 M58.9,241.80 h4.0 M267.3,241.80 h-4.0 M58.9,229.65 h4.0 M267.3,229.65 h-4.0 M58.9,217.50 h7.8 M267.3,217.50 h-7.8 M58.9,205.35 h4.0 M267.3,205.35 h-4.0 M280.62,388.5 v-4.0 M280.62,194.5 v4.0 M299.38,388.5 v-4.0 M299.38,194.5 v4.0 M318.14,388.5 v-4.0 M318.14,194.5 v4.0 M336.90,388.5 v-7.8 M336.90,194.5 v7.8 M355.66,388.5 v-4.0 M355.66,194.5 v4.0 M374.42,388.5 v-4.0 M374.42,194.5 v4.0 M393.18,388.5 v-4.0 M393.18,194.5 v4.0 M411.94,388.5 v-4.0 M411.94,194.5 v4.0 M430.70,388.5 v-7.8 M430.70,194.5 v7.8 M449.46,388.5 v-4.0 M449.46,194.5 v4.0 M468.22,388.5 v-4.0 M468.22,194.5 v4.0 M267.3,387.60 h4.0 M475.70000000000005,387.60 h-4.0 M267.3,375.45 h4.0 M475.70000000000005,375.45 h-4.0 M267.3,363.30 h4.0 M475.70000000000005,363.30 h-4.0 M267.3,351.15 h4.0 M475.70000000000005,351.15 h-4.0 M267.3,339.00 h7.8 M475.70000000000005,339.00 h-7.8 M267.3,326.85 h4.0 M475.70000000000005,326.85 h-4.0 M267.3,314.70 h4.0 M475.70000000000005,314.70 h-4.0 M267.3,302.55 h4.0 M475.70000000000005,302.55 h-4.0 M267.3,290.40 h4.0 M475.70000000000005,290.40 h-4.0 M267.3,278.25 h7.8 M475.70000000000005,278.25 h-7.8 M267.3,266.10 h4.0 M475.70000000000005,266.10 h-4.0 M267.3,253.95 h4.0 M475.70000000000005,253.95 h-4.0 M267.3,241.80 h4.0 M475.70000000000005,241.80 h-4.0 M267.3,229.65 h4.0 M475.70000000000005,229.65 h-4.0 M267.3,217.50 h7.8 M475.70000000000005,217.50 h-7.8 M267.3,205.35 h4.0 M475.70000000000005,205.35 h-4.0 M489.02,388.5 v-4.0 M489.02,194.5 v4.0 M507.78,388.5 v-4.0 M507.78,194.5 v4.0 M526.54,388.5 v-4.0 M526.54,194.5 v4.0 M545.30,388.5 v-7.8 M545.30,194.5 v7.8 M564.06,388.5 v-4.0 M564.06,194.5 v4.0 M582.82,388.5 v-4.0 M582.82,194.5 v4.0 M601.58,388.5 v-4.0 M601.58,194.5 v4.0 M620.34,388.5 v-4.0 M620.34,194.5 v4.0 M639.10,388.5 v-7.8 M639.10,194.5 v7.8 M657.86,388.5 v-4.0 M657.86,194.5 v4.0 M676.62,388.5 v-4.0 M676.62,194.5 v4.0 M475.7,387.60 h4.0 M684.1,387.60 h-4.0 M475.7,375.45 h4.0 M684.1,375.45 h-4.0 M475.7,363.30 h4.0 M684.1,363.30 h-4.0 M475.7,351.15 h4.0 M684.1,351.15 h-4.0 M475.7,339.00 h7.8 M684.1,339.00 h-7.8 M475.7,326.85 h4.0 M684.1,326.85 h-4.0 M475.7,314.70 h4.0 M684.1,314.70 h-4.0 M475.7,302.55 h4.0 M684.1,302.55 h-4.0 M475.7,290.40 h4.0 M684.1,290.40 h-4.0 M475.7,278.25 h7.8 M684.1,278.25 h-7.8 M475.7,266.10 h4.0 M684.1,266.10 h-4.0 M475.7,253.95 h4.0 M684.1,253.95 h-4.0 M475.7,241.80 h4.0 M684.1,241.80 h-4.0 M475.7,229.65 h4.0 M684.1,229.65 h-4.0 M475.7,217.50 h7.8 M684.1,217.50 h-7.8 M475.7,205.35 h4.0 M684.1,205.35 h-4.0" stroke="#000" stroke-width="1.3" fill="none"/>
<path d="M58.9,0.6 H267.3 V194.5 H58.9 Z M267.3,0.6 H475.70000000000005 V194.5 H267.3 Z M475.7,0.6 H684.1 V194.5 H475.7 Z M58.9,194.5 H267.3 V388.5 H58.9 Z M267.3,194.5 H475.70000000000005 V388.5 H267.3 Z M475.7,194.5 H684.1 V388.5 H475.7 Z" stroke="#000" stroke-width="1.5" fill="none"/>
<text x="53.8" y="24.8" font-size="19.6" text-anchor="end" style="" >0.6</text>
<text x="53.8" y="94.09999999999998" font-size="19.6" text-anchor="end" style="" >0.4</text>
<text x="53.8" y="163.4" font-size="19.6" text-anchor="end" style="" >0.2</text>
<text x="54.2" y="224.3" font-size="19.6" text-anchor="end" style="" >7</text>
<text x="54.2" y="285.05" font-size="19.6" text-anchor="end" style="" >6</text>
<text x="54.2" y="345.8" font-size="19.6" text-anchor="end" style="" >5</text>
<text x="128.4996" y="406.2" font-size="19.6" text-anchor="middle" style="" >3.0</text>
<text x="222.2996" y="406.2" font-size="19.6" text-anchor="middle" style="" >3.5</text>
<text x="336.8996" y="406.2" font-size="19.6" text-anchor="middle" style="" >3.0</text>
<text x="430.69960000000003" y="406.2" font-size="19.6" text-anchor="middle" style="" >3.5</text>
<text x="545.2995999999999" y="406.2" font-size="19.6" text-anchor="middle" style="" >3.0</text>
<text x="639.0996" y="406.2" font-size="19.6" text-anchor="middle" style="" >3.5</text>
<text x="101.80" y="436.4" font-size="22.5" font-style="italic">d</text>
<text x="115.00" y="436.4" font-size="22.5" font-style="italic" textLength="16.3" lengthAdjust="spacingAndGlyphs">E</text>
<path d="M120.30,418.7 L123.10,416.2 L125.90,418.7" stroke="#000" stroke-width="1.15" fill="none"/>
<text x="129.90" y="439.9" font-size="15.75" textLength="28.0" lengthAdjust="spacingAndGlyphs">GW</text>
<path d="M160.00,441.4 L168.40,420.0" stroke="#000" stroke-width="1.15"/>
<text x="169.80" y="436.4" font-size="22.5" font-style="italic">d</text>
<text x="181.80" y="436.4" font-size="22.5" font-style="italic">J</text>
<path d="M186.10,418.7 L188.90,416.2 L191.70,418.7" stroke="#000" stroke-width="1.15" fill="none"/>
<text x="194.00" y="439.9" font-size="15.75" textLength="28.0" lengthAdjust="spacingAndGlyphs">GW</text>
<text x="310.20" y="436.4" font-size="22.5" font-style="italic">d</text>
<text x="323.40" y="436.4" font-size="22.5" font-style="italic" textLength="16.3" lengthAdjust="spacingAndGlyphs">E</text>
<path d="M328.70,418.7 L331.50,416.2 L334.30,418.7" stroke="#000" stroke-width="1.15" fill="none"/>
<text x="338.30" y="439.9" font-size="15.75" textLength="28.0" lengthAdjust="spacingAndGlyphs">GW</text>
<path d="M368.40,441.4 L376.80,420.0" stroke="#000" stroke-width="1.15"/>
<text x="378.20" y="436.4" font-size="22.5" font-style="italic">d</text>
<text x="390.20" y="436.4" font-size="22.5" font-style="italic">J</text>
<path d="M394.50,418.7 L397.30,416.2 L400.10,418.7" stroke="#000" stroke-width="1.15" fill="none"/>
<text x="402.40" y="439.9" font-size="15.75" textLength="28.0" lengthAdjust="spacingAndGlyphs">GW</text>
<text x="518.60" y="436.4" font-size="22.5" font-style="italic">d</text>
<text x="531.80" y="436.4" font-size="22.5" font-style="italic" textLength="16.3" lengthAdjust="spacingAndGlyphs">E</text>
<path d="M537.10,418.7 L539.90,416.2 L542.70,418.7" stroke="#000" stroke-width="1.15" fill="none"/>
<text x="546.70" y="439.9" font-size="15.75" textLength="28.0" lengthAdjust="spacingAndGlyphs">GW</text>
<path d="M576.80,441.4 L585.20,420.0" stroke="#000" stroke-width="1.15"/>
<text x="586.60" y="436.4" font-size="22.5" font-style="italic">d</text>
<text x="598.60" y="436.4" font-size="22.5" font-style="italic">J</text>
<path d="M602.90,418.7 L605.70,416.2 L608.50,418.7" stroke="#000" stroke-width="1.15" fill="none"/>
<text x="610.80" y="439.9" font-size="15.75" textLength="28.0" lengthAdjust="spacingAndGlyphs">GW</text>
<g transform="translate(19.5,175.5) rotate(-90)">
<text x="-0.80" y="0" font-size="22.5" font-style="italic" textLength="14.2" lengthAdjust="spacingAndGlyphs">p</text>
<text x="12.50" y="2.2" font-size="15.75" textLength="32.9" lengthAdjust="spacingAndGlyphs">TOV</text>
<text x="55.00" y="0" font-size="22.5">[</text>
<text x="61.20" y="0" font-size="22.5" textLength="42.5" lengthAdjust="spacingAndGlyphs">GeV</text>
<text x="118.90" y="0" font-size="22.5">fm</text>
<text x="138.30" y="-7.5" font-size="15.75">3</text>
<text x="148.00" y="0" font-size="22.5">]</text>
</g>
<path d="M23.0,70.6 L1.2,58.1" stroke="#000" stroke-width="1.1"/>
<g transform="translate(33.9,341.0) rotate(-90)">
<text x="-1.60" y="0" font-size="22.5" font-style="italic" textLength="13.6" lengthAdjust="spacingAndGlyphs">n</text>
<text x="11.60" y="3.5" font-size="15.75" textLength="34.4" lengthAdjust="spacingAndGlyphs">TOV</text>
<text x="53.60" y="0" font-size="22.5">[</text>
<text x="61.20" y="0" font-size="22.5" font-style="italic">n</text>
<text x="75.20" y="3.5" font-size="15.75">sat</text>
<text x="93.00" y="0" font-size="22.5">]</text>
</g>
<rect x="169.1" y="149.2" width="82.1" height="33.0" rx="5" ry="5" fill="#fff" fill-opacity="0.8" stroke="#aaa" stroke-width="1"/>
<text x="175.00" y="170.4" font-size="22.5" font-style="italic">q</text>
<path d="M192.80,162.3 H208.10 M192.80,167.4 H208.10" stroke="#000" stroke-width="1.1"/>
<text x="217.20" y="170.4" font-size="22.5">1.0</text>
<rect x="368.0" y="149.2" width="92.89999999999998" height="33.0" rx="5" ry="5" fill="#fff" fill-opacity="0.8" stroke="#aaa" stroke-width="1"/>
<text x="374.10" y="170.4" font-size="22.5" font-style="italic">q</text>
<path d="M391.90,162.3 H407.20 M391.90,167.4 H407.20" stroke="#000" stroke-width="1.1"/>
<text x="416.30" y="170.4" font-size="22.5">0.85</text>
<rect x="586.0" y="149.2" width="82.0" height="33.0" rx="5" ry="5" fill="#fff" fill-opacity="0.8" stroke="#aaa" stroke-width="1"/>
<text x="591.90" y="170.4" font-size="22.5" font-style="italic">q</text>
<path d="M609.70,162.3 H625.00 M609.70,167.4 H625.00" stroke="#000" stroke-width="1.1"/>
<text x="634.10" y="170.4" font-size="22.5">0.7</text>
<path d="M171.50,346.70 L176.40,351.60 L171.50,356.50 L166.60,351.60 Z" fill="#808080" stroke="#808080" stroke-width="1.3" stroke-linejoin="miter"/>
<rect x="167.70" y="366.40" width="7.60" height="7.60" fill="#808080" stroke="#808080" stroke-width="1.3" stroke-linejoin="miter"/>
<text x="196.3" y="355.2" font-size="13.8" text-anchor="start" style="" >HS-DD2</text>
<text x="196.3" y="373.6" font-size="13.8" textLength="46.3" lengthAdjust="spacingAndGlyphs">V-QCD</text>
<circle cx="353.9" cy="332.6" r="4.46" fill="#000" stroke="#000" stroke-width="1.3" stroke-linejoin="miter"/>
<path d="M349.49,346.89 L358.31,346.89 L353.90,355.71 Z" fill="#000" stroke="#000" stroke-width="1.3" stroke-linejoin="miter"/>
<path d="M349.49,374.91 L358.31,374.91 L353.90,366.09 Z" fill="#000" stroke="#000" stroke-width="1.3" stroke-linejoin="miter"/>
<path d="M424.90,328.70 L433.30,337.10 M424.90,337.10 L433.30,328.70" stroke="#000" stroke-width="2.10" fill="none"/>
<path d="M424.58,351.50 L433.82,351.50 M429.20,346.88 L429.20,356.12" stroke="#000" stroke-width="2.52" fill="none"/>
<path d="M429.40,365.57 L430.46,368.84 L433.89,368.84 L431.12,370.86 L432.18,374.12 L429.40,372.10 L426.62,374.12 L427.68,370.86 L424.91,368.84 L428.34,368.84 Z" fill="#000" stroke="#000" stroke-width="1.3" stroke-linejoin="round"/>
<text x="378.9" y="336.2" font-size="13.8" text-anchor="start" style="" >A</text>
<text x="378.9" y="354.8" font-size="13.8" text-anchor="start" style="" >B</text>
<text x="378.9" y="373.8" font-size="13.8" text-anchor="start" style="" >C</text>
<text x="454.1" y="336.2" font-size="13.8" text-anchor="start" style="" >D</text>
<text x="454.1" y="354.8" font-size="13.8" text-anchor="start" style="" >E</text>
<text x="454.1" y="373.4" font-size="13.8" text-anchor="start" style="" >F</text>
</svg>
</body></html>
